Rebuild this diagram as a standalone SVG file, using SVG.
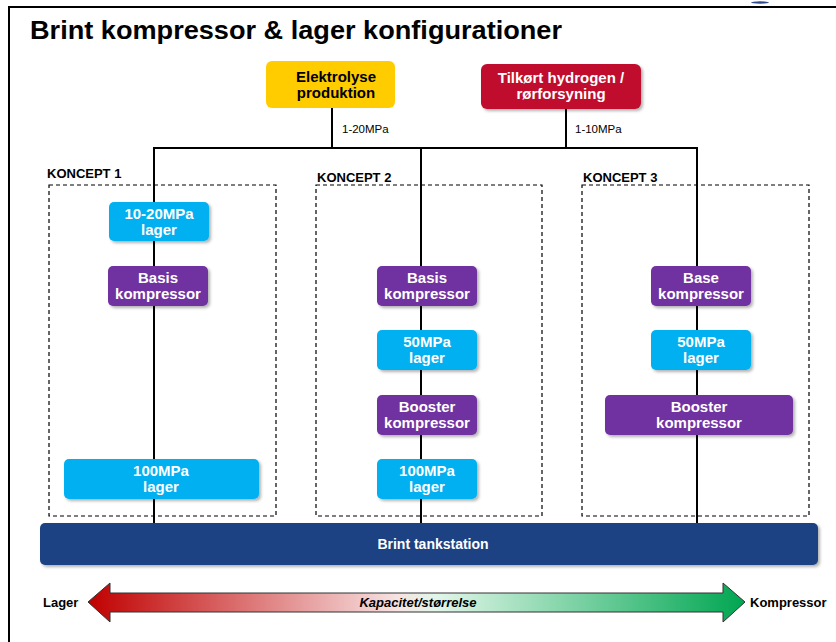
<svg xmlns="http://www.w3.org/2000/svg" width="836" height="642" viewBox="0 0 836 642">
<defs>
<style>
text{font-family:"Liberation Sans",Arial,sans-serif;}
.bx{font-weight:bold;font-size:15px;fill:#fff;text-anchor:middle;}
.bk{font-weight:bold;font-size:15px;fill:#000;text-anchor:middle;}
.lbl{font-weight:bold;font-size:13px;fill:#000;}
.pr{font-size:11.5px;fill:#000;}
.cy{fill:#00B0F0;}
.pu{fill:#7030A0;}
.dash{fill:none;stroke:#000;stroke-width:1.2;stroke-dasharray:4 3;}
.ln{stroke:#000;stroke-width:2;fill:none;}
</style>
<filter id="sh" x="-10%" y="-20%" width="130%" height="160%">
<feDropShadow dx="2" dy="2" stdDeviation="1.5" flood-color="#000" flood-opacity="0.3"/>
</filter>
<linearGradient id="grad" x1="0" y1="0" x2="1" y2="0">
<stop offset="0" stop-color="#C00000"/>
<stop offset="0.47" stop-color="#F7E2E2"/>
<stop offset="0.53" stop-color="#E2F6E9"/>
<stop offset="1" stop-color="#00A651"/>
</linearGradient>
</defs>
<rect width="836" height="642" fill="#fff"/>
<g id="frame">
<path d="M9 642 V7 H836" fill="none" stroke="#000" stroke-width="2"/>
<ellipse cx="760" cy="2.5" rx="9" ry="1.2" fill="#2F4A8A"/>
</g>
<text x="30" y="39" font-size="26" font-weight="bold" textLength="532" lengthAdjust="spacingAndGlyphs">Brint kompressor &amp; lager konfigurationer</text>

<g id="concepts">
<g id="koncept1">
<rect class="dash" x="49" y="185" width="227" height="331"/>
<text class="lbl" x="47" y="178">KONCEPT 1</text>
</g>
<g id="koncept2">
<rect class="dash" x="316" y="185" width="226" height="331"/>
<text class="lbl" x="317" y="182">KONCEPT 2</text>
</g>
<g id="koncept3">
<rect class="dash" x="582" y="185" width="227" height="331"/>
<text class="lbl" x="583" y="182">KONCEPT 3</text>
</g>
</g>

<g id="connectors">
<line class="ln" x1="332" y1="108" x2="332" y2="148"/>
<line class="ln" x1="566" y1="109" x2="566" y2="148"/>
<line class="ln" x1="153" y1="148" x2="698" y2="148"/>
<line class="ln" x1="154" y1="147" x2="154" y2="523"/>
<line class="ln" x1="421" y1="147" x2="421" y2="523"/>
<line class="ln" x1="697" y1="147" x2="697" y2="523"/>
<text class="pr" x="342" y="133">1-20MPa</text>
<text class="pr" x="575" y="133">1-10MPa</text>
</g>

<g id="elektrolyse">
<rect x="266" y="61" width="129" height="47" rx="6" fill="#FFCC00"/>
<text class="bk" x="336" y="82">Elektrolyse</text>
<text class="bk" x="336" y="98">produktion</text>
</g>
<g id="tilkort">
<rect x="481" y="64" width="160" height="45" rx="6" fill="#C00D2E" filter="url(#sh)"/>
<text class="bx" x="561" y="83">Tilkørt hydrogen /</text>
<text class="bx" x="561" y="99">rørforsyning</text>
</g>

<g id="k1-lager1020">
<rect class="cy" x="109" y="202" width="100" height="39" rx="5" filter="url(#sh)"/>
<text class="bx" x="159" y="219">10-20MPa</text>
<text class="bx" x="159" y="235">lager</text>
</g>
<g id="k1-basis">
<rect class="pu" x="108" y="266" width="100" height="40" rx="5" filter="url(#sh)"/>
<text class="bx" x="158" y="283">Basis</text>
<text class="bx" x="158" y="299">kompressor</text>
</g>
<g id="k1-lager100">
<rect class="cy" x="64" y="459" width="195" height="40" rx="5" filter="url(#sh)"/>
<text class="bx" x="161" y="476">100MPa</text>
<text class="bx" x="161" y="492">lager</text>
</g>

<g id="k2-basis">
<rect class="pu" x="377" y="266" width="100" height="40" rx="5" filter="url(#sh)"/>
<text class="bx" x="427" y="283">Basis</text>
<text class="bx" x="427" y="299">kompressor</text>
</g>
<g id="k2-lager50">
<rect class="cy" x="377" y="330" width="100" height="40" rx="5" filter="url(#sh)"/>
<text class="bx" x="427" y="347">50MPa</text>
<text class="bx" x="427" y="363">lager</text>
</g>
<g id="k2-booster">
<rect class="pu" x="377" y="395" width="100" height="40" rx="5" filter="url(#sh)"/>
<text class="bx" x="427" y="412">Booster</text>
<text class="bx" x="427" y="428">kompressor</text>
</g>
<g id="k2-lager100">
<rect class="cy" x="377" y="459" width="100" height="40" rx="5" filter="url(#sh)"/>
<text class="bx" x="427" y="476">100MPa</text>
<text class="bx" x="427" y="492">lager</text>
</g>

<g id="k3-base">
<rect class="pu" x="651" y="266" width="100" height="40" rx="5" filter="url(#sh)"/>
<text class="bx" x="701" y="283">Base</text>
<text class="bx" x="701" y="299">kompressor</text>
</g>
<g id="k3-lager50">
<rect class="cy" x="651" y="330" width="100" height="40" rx="5" filter="url(#sh)"/>
<text class="bx" x="701" y="347">50MPa</text>
<text class="bx" x="701" y="363">lager</text>
</g>
<g id="k3-booster">
<rect class="pu" x="605" y="395" width="188" height="40" rx="5" filter="url(#sh)"/>
<text class="bx" x="699" y="412">Booster</text>
<text class="bx" x="699" y="428">kompressor</text>
</g>

<g id="tankstation">
<rect x="40" y="523" width="778" height="42" rx="5" fill="#1F4283" filter="url(#sh)"/>
<text class="bx" x="433" y="549" style="font-size:14px">Brint tankstation</text>
</g>

<g id="scale">
<path d="M88 602 L110 583 L110 593 L723 593 L723 583 L745 602 L723 622 L723 612 L110 612 L110 622 Z" fill="url(#grad)" stroke="#333" stroke-width="1"/>
<text class="lbl" x="43" y="607">Lager</text>
<text class="lbl" x="750" y="607">Kompressor</text>
<text x="418" y="607" font-size="13" font-weight="bold" font-style="italic" text-anchor="middle">Kapacitet/størrelse</text>
</g>
</svg>
